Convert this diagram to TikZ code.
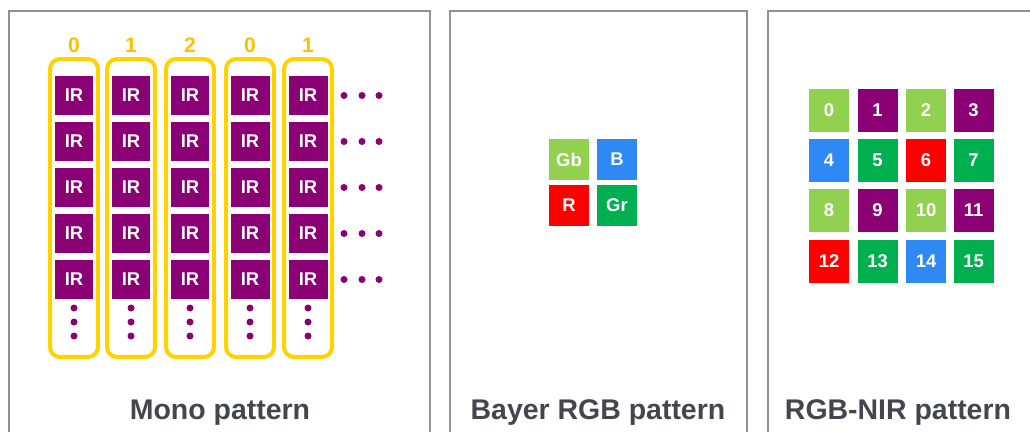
\documentclass[tikz,border=0pt]{standalone}
\usepackage{fontspec}
\setmainfont{Liberation Sans}
\usepackage{tikz}
\usetikzlibrary{positioning}

\definecolor{framegray}{RGB}{145,145,145}
\definecolor{captiongray}{RGB}{68,70,79}
\definecolor{laneyellow}{RGB}{255,210,0}
\definecolor{numyellow}{RGB}{255,192,0}
\definecolor{irpurple}{RGB}{139,0,116}
\definecolor{lightgreen}{RGB}{146,208,80}
\definecolor{darkgreen}{RGB}{0,176,80}
\definecolor{skyblue}{RGB}{46,137,245}
\definecolor{pixred}{RGB}{255,0,0}

\begin{document}
\begin{tikzpicture}[x=0.02cm, y=-0.02cm,
  panel/.style={draw=framegray, line width=0.04cm},
  tile/.style={minimum width=0.78cm, minimum height=0.78cm, inner sep=0pt, text=white, font=\fontsize{10.5}{12}\selectfont\bfseries},
  lane/.style={draw=laneyellow, line width=0.08cm, rounded corners=0.2cm, minimum width=0.96cm, minimum height=5.96cm},
  lanenum/.style={text=numyellow, font=\fontsize{12}{14}\selectfont\bfseries},
  caption/.style={text=captiongray, font=\fontsize{16.2}{19}\selectfont\bfseries, anchor=base}
]
  \clip (0,0) rectangle (1030,432);

  % three frames, open at the bottom
  \draw[panel] (9,11) rectangle (430,460);
  \draw[panel] (450,11) rectangle (747,460);
  \draw[panel] (768,11) rectangle (1070,460);

  % mono: five lanes of IR pixels
  \foreach \c/\x/\n in {1/74/0, 2/131/1, 3/190/2, 4/250/0, 5/308/1} {
    \node[lane] (lane\c) at (\x,208) {};
    \node[lanenum] (num\c) at (\x,45) {\n};
    \foreach \r/\y in {1/95.5, 2/141.5, 3/187.5, 4/233.5, 5/279.5}
      \node[tile, fill=irpurple] (ir\c\r) at (\x,\y) {IR};
    \foreach \y in {308,322,336}
      \fill[irpurple] (\x,\y) circle (3.5);
  }
  \foreach \y in {95.5, 141.5, 187.5, 233.5, 279.5}
    \foreach \x in {344,362,379}
      \fill[irpurple] (\x,\y) circle (3.5);
  \node[caption] (mono) at (220,419) {Mono pattern};

  % bayer 2x2
  \node[tile, minimum width=0.8cm, minimum height=0.82cm, fill=lightgreen] (gb) at (569,159.5) {Gb};
  \node[tile, minimum width=0.8cm, minimum height=0.82cm, fill=skyblue] (b) at (617,159.5) {B};
  \node[tile, minimum width=0.8cm, minimum height=0.82cm, fill=pixred] (r) at (569,205.5) {R};
  \node[tile, minimum width=0.8cm, minimum height=0.82cm, fill=darkgreen] (gr) at (617,205.5) {Gr};
  \node[caption] (bayer) at (598,419) {Bayer RGB pattern};

  % rgb-nir 4x4
  \foreach \i/\x/\y/\col in {0/829/110.5/lightgreen, 1/877.5/110.5/irpurple, 2/926/110.5/lightgreen, 3/973.5/110.5/irpurple,
                             4/829/160.5/skyblue, 5/877.5/160.5/darkgreen, 6/926/160.5/pixred, 7/973.5/160.5/darkgreen,
                             8/829/210.5/lightgreen, 9/877.5/210.5/irpurple, 10/926/210.5/lightgreen, 11/973.5/210.5/irpurple,
                             12/829/261.5/pixred, 13/877.5/261.5/darkgreen, 14/926/261.5/skyblue, 15/973.5/261.5/darkgreen}
    \node[tile, minimum width=0.8cm, minimum height=0.86cm, fill=\col] (nir\i) at (\x,\y) {\i};
  \node[caption] (rgbnir) at (898,419) {RGB-NIR pattern};
\end{tikzpicture}
\end{document}
